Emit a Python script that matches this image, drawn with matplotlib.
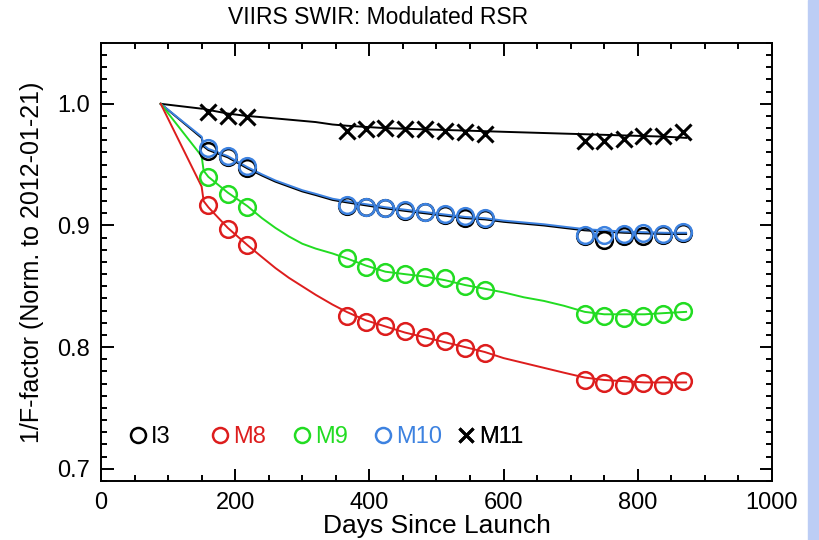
import matplotlib
matplotlib.use("Agg")
import matplotlib.pyplot as plt
from matplotlib.patches import Rectangle

plt.rcParams["font.family"] = ["Liberation Sans", "DejaVu Sans"]

# measured points (days since launch, 1/F-factor normalised)
days = [160, 189, 218, 366, 395, 424, 453, 483, 513, 543, 572, 721, 750, 779, 808, 838, 868]
i3 = [0.961, 0.956, 0.947, 0.916, 0.915, 0.914, 0.912, 0.911, 0.909, 0.906, 0.905,
      0.891, 0.888, 0.891, 0.891, 0.892, 0.894]
m8 = [0.917, 0.897, 0.884, 0.826, 0.821, 0.817, 0.813, 0.808, 0.805, 0.799, 0.795,
      0.773, 0.7705, 0.769, 0.7705, 0.769, 0.772]
m9 = [0.940, 0.926, 0.915, 0.873, 0.866, 0.862, 0.860, 0.858, 0.857, 0.850, 0.847,
      0.827, 0.826, 0.824, 0.826, 0.827, 0.830]
m10 = [0.964, 0.957, 0.949, 0.917, 0.9155, 0.9145, 0.913, 0.911, 0.9095, 0.9075, 0.906,
       0.892, 0.8925, 0.893, 0.894, 0.893, 0.895]
m11 = [0.993, 0.990, 0.989, 0.978, 0.979, 0.9805, 0.979, 0.979, 0.978, 0.9765, 0.975,
       0.9695, 0.9695, 0.971, 0.9735, 0.9735, 0.9765]

# fitted curves
fit_days = [89, 150, 153, 160, 189, 218, 240, 260, 280, 300, 320, 345, 366, 395, 424, 453,
            483, 513, 543, 572, 600, 630, 660, 690, 721, 750, 780, 810, 840, 872]
fit_i3 = [1.0, 0.972, 0.965, 0.962, 0.956, 0.947, 0.941, 0.936, 0.932, 0.928, 0.925, 0.921,
          0.919, 0.9165, 0.914, 0.912, 0.910, 0.908, 0.906, 0.905, 0.903, 0.9015, 0.900,
          0.898, 0.896, 0.895, 0.894, 0.8935, 0.893, 0.893]
fit_m8 = [1.0, 0.932, 0.920, 0.915, 0.898, 0.884, 0.874, 0.865, 0.857, 0.850, 0.843, 0.835,
          0.829, 0.822, 0.817, 0.812, 0.808, 0.804, 0.800, 0.796, 0.791, 0.787, 0.783,
          0.779, 0.775, 0.773, 0.772, 0.771, 0.771, 0.771]
fit_m9 = [1.0, 0.957, 0.945, 0.940, 0.927, 0.916, 0.906, 0.898, 0.891, 0.885, 0.881, 0.877,
          0.873, 0.867, 0.862, 0.860, 0.858, 0.855, 0.851, 0.848, 0.845, 0.841, 0.838,
          0.834, 0.829, 0.827, 0.827, 0.827, 0.828, 0.829]
fit_m10 = [1.0, 0.973, 0.966, 0.963, 0.957, 0.948, 0.942, 0.937, 0.933, 0.929, 0.926, 0.922,
           0.920, 0.9175, 0.915, 0.913, 0.911, 0.909, 0.907, 0.906, 0.904, 0.9025, 0.901,
           0.899, 0.897, 0.896, 0.895, 0.8945, 0.894, 0.894]
fit_m11 = [1.0, 0.996, 0.996, 0.995, 0.992, 0.990, 0.989, 0.988, 0.987, 0.986, 0.985, 0.983,
           0.982, 0.981, 0.980, 0.9795, 0.979, 0.9785, 0.978, 0.9775, 0.977, 0.9765, 0.976,
           0.9755, 0.975, 0.9745, 0.974, 0.9735, 0.973, 0.972]

RED, GREEN, BLUE = "#dd1d1d", "#22dc22", "#3d82e0"

fig = plt.figure(figsize=(8.19, 5.40), dpi=100)
fig.patches.append(Rectangle((0.986, 0), 0.014, 1, transform=fig.transFigure,
                             color="#bccdf5", zorder=0))
ax = fig.add_axes([0.1233, 0.1093, 0.8193, 0.8111])

lw = 1.4
ax.plot(fit_days, fit_m11, color="black", lw=lw)
ax.plot(fit_days, fit_i3, color="black", lw=lw)
ax.plot(fit_days, fit_m10, color=BLUE, lw=lw)
ax.plot(fit_days, fit_m9, color=GREEN, lw=lw)
ax.plot(fit_days, fit_m8, color=RED, lw=lw)

mk = dict(ls="none", marker="o", ms=12, mfc="none", mew=1.8)
h_i3, = ax.plot(days, i3, mec="black", label="I3", **mk)
h_m8, = ax.plot(days, m8, mec=RED, label="M8", **mk)
h_m9, = ax.plot(days, m9, mec=GREEN, label="M9", **mk)
h_m10, = ax.plot(days, m10, mec=BLUE, label="M10", **mk)
h_m11, = ax.plot(days, m11, ls="none", marker="x", ms=11, mew=2.2, color="black", label="M11")

# legend entries sit at fixed spots, like the IDL original
for h, xa in zip([h_i3, h_m8, h_m9, h_m10, h_m11], [0.045, 0.167, 0.289, 0.410, 0.534]):
    lg = ax.legend(handles=[h], loc="center left", bbox_to_anchor=(xa, 0.1),
                   frameon=False, fontsize=17, handlelength=0.6, handletextpad=0.25,
                   markerscale=0.9, labelcolor="markeredgecolor", borderaxespad=0,
                   borderpad=0)
    ax.add_artist(lg)

ax.set_xlim(0, 1000)
ax.set_ylim(0.69, 1.05)
ax.set_xticks([0, 200, 400, 600, 800, 1000])
ax.set_xticks(range(0, 1001, 50), minor=True)
ax.set_yticks([0.7, 0.8, 0.9, 1.0])
ax.set_yticks([0.69 + 0.01 * i for i in range(37)], minor=True)
ax.set_yticklabels(["0.7", "0.8", "0.9", "1.0"])
ax.tick_params(which="both", direction="in", top=True, right=True, labelsize=17, width=1.4)
ax.tick_params(which="major", length=9, pad=8)
ax.tick_params(which="minor", length=4.5)
for s in ax.spines.values():
    s.set_linewidth(1.4)

ax.set_xlabel("Days Since Launch", fontsize=19, labelpad=0)
ax.set_ylabel("1/F-factor (Norm. to 2012-01-21)", fontsize=18, labelpad=9)
ax.set_title("VIIRS SWIR: Modulated RSR", fontsize=16.5, pad=14, x=0.413)

fig.savefig("out.png", dpi=100)
